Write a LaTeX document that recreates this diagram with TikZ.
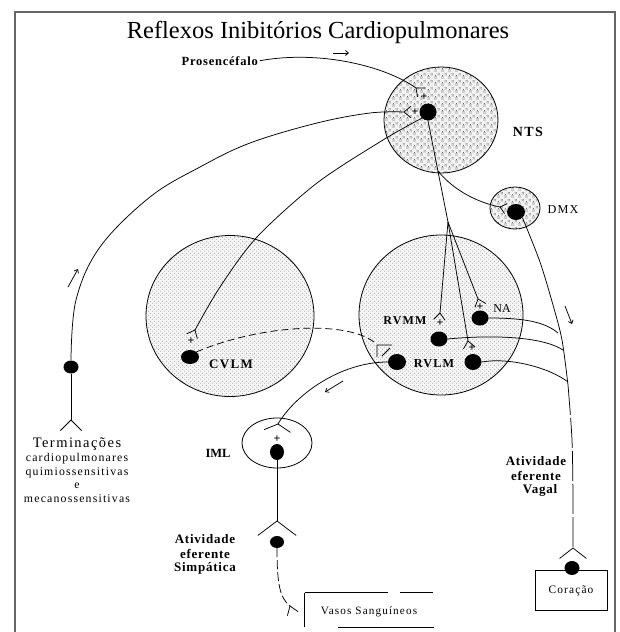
\documentclass[tikz,border=0pt]{standalone}
\usepackage{fontspec}
\setmainfont{Liberation Serif}
\newfontfamily\lsp[LetterSpace=10]{Liberation Serif}
\newfontfamily\lsb[LetterSpace=6]{Liberation Serif}
\usetikzlibrary{shapes.geometric,patterns,arrows.meta}
\pgfdeclarepatternformonly{stip}{\pgfqpoint{0pt}{0pt}}{\pgfqpoint{4pt}{4pt}}{\pgfqpoint{4pt}{4pt}}{%
  \pgfpathcircle{\pgfqpoint{1pt}{1pt}}{0.5pt}%
  \pgfpathcircle{\pgfqpoint{3pt}{3pt}}{0.5pt}%
  \pgfusepath{fill}}
\pgfdeclarepatternformonly{clust}{\pgfqpoint{0pt}{0pt}}{\pgfqpoint{7pt}{7pt}}{\pgfqpoint{7pt}{7pt}}{%
  \pgfpathcircle{\pgfqpoint{1pt}{1pt}}{0.45pt}%
  \pgfpathcircle{\pgfqpoint{2.4pt}{1pt}}{0.45pt}%
  \pgfpathcircle{\pgfqpoint{1pt}{2.4pt}}{0.45pt}%
  \pgfpathcircle{\pgfqpoint{2.4pt}{2.4pt}}{0.45pt}%
  \pgfpathcircle{\pgfqpoint{1.7pt}{3.8pt}}{0.45pt}%
  \pgfpathcircle{\pgfqpoint{4.6pt}{4.6pt}}{0.45pt}%
  \pgfpathcircle{\pgfqpoint{6pt}{4.6pt}}{0.45pt}%
  \pgfpathcircle{\pgfqpoint{4.6pt}{6pt}}{0.45pt}%
  \pgfpathcircle{\pgfqpoint{6pt}{6pt}}{0.45pt}%
  \pgfusepath{fill}}
\newcommand\synfork[4]{\draw[axon] (#1) -- ++(#2+#3:#4) (#1) -- ++(#2-#3:#4);}
\tikzset{
  nucleus/.style={ellipse, draw, line width=0.8pt, inner sep=0pt},
  ntsfill/.style={preaction={fill=black!5}, pattern=clust, pattern color=black!70},
  dotfill/.style={preaction={fill=black!4}, pattern=stip, pattern color=black!55},
  soma/.style={ellipse, fill=black, inner sep=0pt},
  axon/.style={line width=0.75pt},
  lab/.style={inner sep=0pt, anchor=base},
  ttl/.style={lab, font=\fontsize{24.5}{28}\selectfont},
  bnuc/.style={lab, font=\lsp\bfseries\fontsize{13}{15}\selectfont},
  small/.style={lab, font=\lsp\fontsize{11.8}{14}\selectfont},
  mid/.style={lab, font=\lsb\bfseries\fontsize{13}{15}\selectfont},
  plus/.style={inner sep=0pt, font=\bfseries\fontsize{12}{12}\selectfont},
  tick/.style={axon, -{Straight Barb[length=3pt,width=5pt]}}
}
\begin{document}
\begin{tikzpicture}[x=1pt,y=-1pt]
\useasboundingbox (0,0) rectangle (620,632);
% frame
\draw[black!60, line width=1.6pt] (15,632) -- (15,12) -- (615,12) -- (615,632);

% nuclei
\node[nucleus, ntsfill, minimum width=114pt, minimum height=106pt] (nts) at (441,120) {};
\node[nucleus, ntsfill, minimum width=50pt, minimum height=42pt] (dmx) at (515,208) {};
\node[nucleus, dotfill, minimum width=168pt, minimum height=161pt] (cvlm) at (230,316) {};
\node[nucleus, dotfill, minimum width=164pt, minimum height=160pt] (rvlm) at (441,315) {};
\node[nucleus, minimum width=70pt, minimum height=50pt] (iml) at (277,443) {};

% somata
\node[soma, minimum width=17pt, minimum height=17pt] (ntsdot) at (428,112) {};
\node[soma, minimum width=18pt, minimum height=16pt] (dmxdot) at (516,212) {};
\node[soma, minimum width=18pt, minimum height=14pt] (cvlmdot) at (190,357) {};
\node[soma, minimum width=18pt, minimum height=16pt] (rvlmL) at (397,362) {};
\node[soma, minimum width=17pt, minimum height=16pt] (rvlmR) at (473,362) {};
\node[soma, minimum width=17pt, minimum height=15pt] (rvmmdot) at (439,339) {};
\node[soma, minimum width=17pt, minimum height=15pt] (nadot) at (480,318) {};
\node[soma, minimum width=14pt, minimum height=16pt] (imldot) at (277,452) {};
\node[soma, minimum width=14pt, minimum height=12pt] (simpdot) at (277,542) {};
\node[soma, minimum width=15pt, minimum height=13pt] (affdot) at (71,367) {};

% boxes
\node[inner sep=0pt, minimum width=72pt, minimum height=40pt, draw, line width=0.7pt] (cor) at (571,590) {};
\node[inner sep=0pt, minimum width=128pt, minimum height=34pt] (vasos) at (369,610) {};
\draw[axon] (vasos.north west) -- ++(83,0) ++(12,0) -- (vasos.north east);
\draw[axon] ([yshift=-17pt]vasos.east) -- (vasos.south east) -- ++(-95,0);
\draw[axon] (vasos.north west) -- (vasos.south west);
\node[soma, minimum width=15pt, minimum height=14pt] (cordot) at (572,568) {};

% labels
\node[ttl] (title) at (318,38) {Reflexos Inibitórios Cardiopulmonares};
\node[lab, font=\lsb\bfseries\fontsize{12.5}{14}\selectfont, anchor=base east] (pros) at (258,65) {Prosencéfalo};
\node[bnuc, font=\lsp\bfseries\fontsize{14}{16}\selectfont] (ntslbl) at (528,136) {NTS};
\node[lab, font=\lsp\fontsize{12.2}{14}\selectfont] (dmxlbl) at (563,213) {DMX};
\node[bnuc] (cvlmlbl) at (231,368) {CVLM};
\node[bnuc, font=\lsp\bfseries\fontsize{12.2}{14}\selectfont] (rvlmlbl) at (434,367) {RVLM};
\node[bnuc, font=\lsp\bfseries\fontsize{12}{14}\selectfont] (rvmmlbl) at (405,324) {RVMM};
\node[lab, font=\fontsize{12}{14}\selectfont] (nalbl) at (502,312) {NA};
\node[lab, font=\bfseries\fontsize{12.5}{14}\selectfont] (imllbl) at (218,457) {IML};
\node[lab, font=\lsp\fontsize{14.5}{16}\selectfont] (term1) at (77,447) {Terminações};
\node[small] (term2) at (77,461) {cardiopulmonares};
\node[small] (term3) at (77,475) {quimiossensitivas};
\node[small] (term4) at (77,488) {e};
\node[small] (term5) at (77,502) {mecanossensitivas};
\node[mid] (simp1) at (205,543) {Atividade};
\node[mid] (simp2) at (205,558) {eferente};
\node[mid] (simp3) at (205,571) {Simpática};
\node[mid] (vag1) at (536,465) {Atividade};
\node[mid] (vag2) at (536,480) {eferente};
\node[mid] (vag3) at (540,493) {Vagal};
\node[lab, font=\lsp\fontsize{11.4}{13}\selectfont] (corlbl) at (571,593) {Coração};
\node[lab, font=\lsp\fontsize{11.2}{13}\selectfont] (vaslbl) at (369,614) {Vasos Sanguíneos};

% plus signs
\node[plus] (p1) at (424,97) {+};
\node[plus] (p2) at (415,112) {+};
\node[plus] (p3) at (191,341) {+};
\node[plus] (p4) at (440,323) {+};
\node[plus] (p5) at (480,307) {+};
\node[plus] (p6) at (472,348) {+};
\node[plus] (p7) at (277,439) {+};

% fork apexes and way points
\coordinate (fPros) at (416,88);
\coordinate (fAff) at (404,112);
\coordinate (fCvlm) at (195,330);
\coordinate (fDmx) at (500,207);
\coordinate (split) at (448,222);
\coordinate (ntsOut) at (438,171);
\coordinate (fRvmm) at (440,313);
\coordinate (fRvlm) at (468,341);
\coordinate (fNa) at (478,299);
\coordinate (fIml) at (278,424);
\coordinate (fTerm) at (71,420);
\coordinate (fSimp) at (277,521);
\coordinate (fCor) at (573,548);
\coordinate (fVas) at (290,606);
\coordinate (vagMid) at (568,385);
\coordinate (naEnd) at (558,333);
\coordinate (rvmmEnd) at (563,350);
\coordinate (rvlmEnd) at (568,382);
\coordinate (inhib) at (374,342);

% Prosencefalo -> NTS
\draw[axon] ([xshift=2pt]pros.east) .. controls (320,50) and (385,66) .. (fPros);
\synfork{fPros}{40}{40}{9}
% afferent
\draw[axon] plot[smooth, tension=0.6] coordinates {(affdot.north) (76,300) (100,247) (150,197) (200,167) (250,143) (317,123) (370,113) (fAff)};
\synfork{fAff}{0}{40}{9}
\draw[axon] (affdot.south) -- (fTerm);
\synfork{fTerm}{90}{45}{15}
% NTS -> CVLM
\draw[axon] plot[smooth] coordinates {(ntsdot.south west) (383,140) (317,183) (257,237) (220,287) (fCvlm)};
\synfork{fCvlm}{115}{40}{9}
% NTS -> RVLM region
\draw[axon] (ntsdot.south) -- (split);
\draw[axon] (split) -- (fRvmm);
\synfork{fRvmm}{95}{40}{9}
\draw[axon] (split) -- (fRvlm);
\synfork{fRvlm}{80}{40}{9}
\draw[axon] (split) -- (fNa);
\synfork{fNa}{70}{40}{9}
% NTS -> DMX
\draw[axon] (ntsOut) .. controls (455,192) and (480,203) .. (fDmx);
\synfork{fDmx}{15}{40}{8}
% vagal efferent
\draw[axon] plot[smooth] coordinates {(dmxdot.south east) (540,262) (553,305) (562,340) (vagMid)};
\draw[axon, dash pattern=on 30pt off 3pt] plot[smooth] coordinates {(vagMid) (572,440) (573,500) (fCor)};
\synfork{fCor}{90}{52}{17}
% ventral medulla -> vagal line
\draw[axon] (nadot.east) .. controls (525,318) and (545,322) .. (naEnd);
\draw[axon] (rvmmdot.east) .. controls (500,334) and (545,338) .. (rvmmEnd);
\draw[axon] (rvlmR.east) .. controls (510,357) and (550,368) .. (rvlmEnd);
% RVLM -> IML
\draw[axon] (rvlmL.west) .. controls (340,362) and (295,395) .. (fIml);
\synfork{fIml}{96}{62}{15}
\draw[axon] (imldot.south) -- (fSimp);
\synfork{fSimp}{90}{53}{24}
\draw[axon, dash pattern=on 9pt off 3pt] (simpdot.south) .. controls (277,585) and (280,598) .. (fVas);
\synfork{fVas}{70}{35}{10}
% CVLM -| RVLM (inhibitory)
\draw[axon, dash pattern=on 7pt off 4pt] (cvlmdot.north east) .. controls (260,325) and (345,320) .. (inhib);
\draw[axon] (377,357) -- (377,345) -- (392,345) (382,356) -- (390,348);

% direction ticks
\coordinate (a1s) at (333,53); \coordinate (a1e) at (349,53);
\coordinate (a2s) at (68,287); \coordinate (a2e) at (78,269);
\coordinate (a3s) at (343,381); \coordinate (a3e) at (325,392);
\coordinate (a4s) at (565,306); \coordinate (a4e) at (572,324);
\draw[tick] (a1s) -- (a1e);
\draw[tick] (a2s) -- (a2e);
\draw[tick] (a3s) -- (a3e);
\draw[tick] (a4s) -- (a4e);
\end{tikzpicture}
\end{document}
